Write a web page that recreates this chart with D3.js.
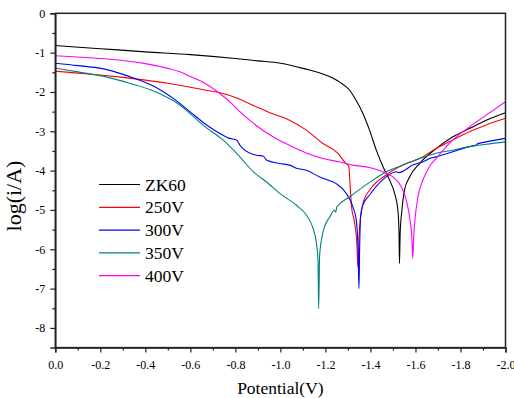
<!DOCTYPE html>
<html>
<head>
<meta charset="utf-8">
<script src="https://cdn.jsdelivr.net/npm/d3@7"></script>
</head>
<body style="margin:0">
<svg id="chart" width="514" height="398" font-family="Liberation Serif"></svg>
<script>
// ---- data (potential V, log(i/A)) ----
const seriesNames = ["ZK60", "250V", "300V", "350V", "400V"];
const seriesColors = ["#000000", "#ff0000", "#0000ff", "#008080", "#ff00ff"];

const zk60 = [[0,-0.82],[-0.2,-0.90],[-0.4,-0.98],[-0.6,-1.05],[-0.8,-1.15],[-0.9,-1.21],[-1.0,-1.27],[-1.1,-1.40],[-1.218,-1.61],[-1.263,-1.75],[-1.307,-1.95],[-1.335,-2.2],[-1.366,-2.54],[-1.396,-2.97],[-1.426,-3.48],[-1.463,-3.99],[-1.485,-4.24],[-1.507,-4.57],[-1.522,-5.0],[-1.527,-5.6],[-1.529,-6.36],[-1.532,-5.6],[-1.540,-5.0],[-1.551,-4.5],[-1.574,-4.16],[-1.618,-3.82],[-1.692,-3.44],[-1.766,-3.14],[-1.84,-2.93],[-1.914,-2.72],[-2.0,-2.53]];

const v250 = [[0,-1.47],[-0.1,-1.52],[-0.2,-1.57],[-0.3,-1.63],[-0.4,-1.70],[-0.5,-1.78],[-0.6,-1.88],[-0.664,-1.95],[-0.745,-2.04],[-0.8,-2.14],[-0.894,-2.38],[-0.95,-2.52],[-1.041,-2.72],[-1.115,-2.97],[-1.189,-3.31],[-1.256,-3.56],[-1.285,-3.78],[-1.304,-3.90],[-1.310,-4.4],[-1.316,-4.92],[-1.33,-5.34],[-1.34,-5.9],[-1.344,-6.45],[-1.35,-5.6],[-1.356,-5.2],[-1.37,-4.77],[-1.396,-4.5],[-1.47,-4.11],[-1.544,-3.86],[-1.618,-3.69],[-1.692,-3.44],[-1.766,-3.22],[-1.84,-3.01],[-1.914,-2.84],[-2.0,-2.67]];

const v300 = [[0,-1.27],[-0.1,-1.33],[-0.22,-1.42],[-0.33,-1.61],[-0.442,-1.87],[-0.553,-2.29],[-0.598,-2.50],[-0.672,-2.84],[-0.745,-3.10],[-0.775,-3.18],[-0.805,-3.22],[-0.82,-3.35],[-0.834,-3.44],[-0.894,-3.61],[-0.923,-3.63],[-0.938,-3.73],[-0.997,-3.82],[-1.041,-3.86],[-1.071,-3.94],[-1.115,-3.99],[-1.174,-4.16],[-1.211,-4.24],[-1.248,-4.33],[-1.293,-4.58],[-1.322,-4.92],[-1.337,-5.26],[-1.345,-6.0],[-1.349,-7.0],[-1.352,-6.0],[-1.356,-5.18],[-1.366,-4.88],[-1.396,-4.62],[-1.47,-4.16],[-1.515,-4.03],[-1.525,-4.05],[-1.588,-3.86],[-1.65,-3.73],[-1.655,-3.71],[-1.692,-3.65],[-1.766,-3.52],[-1.84,-3.39],[-1.87,-3.35],[-1.875,-3.32],[-1.914,-3.27],[-2.0,-3.18]];

const v350 = [[0,-1.39],[-0.1,-1.49],[-0.22,-1.61],[-0.33,-1.78],[-0.442,-1.99],[-0.553,-2.33],[-0.664,-2.88],[-0.745,-3.22],[-0.82,-3.65],[-0.878,-4.02],[-0.945,-4.32],[-0.997,-4.58],[-1.071,-4.88],[-1.115,-5.13],[-1.145,-5.47],[-1.16,-5.85],[-1.167,-6.28],[-1.170,-7.51],[-1.174,-6.19],[-1.182,-5.77],[-1.196,-5.43],[-1.219,-5.18],[-1.241,-5.0],[-1.246,-5.06],[-1.251,-4.92],[-1.307,-4.67],[-1.396,-4.30],[-1.47,-4.03],[-1.544,-3.86],[-1.618,-3.69],[-1.692,-3.56],[-1.766,-3.48],[-1.84,-3.39],[-1.914,-3.33],[-2.0,-3.27]];

const v400 = [[0,-1.08],[-0.1,-1.11],[-0.2,-1.15],[-0.3,-1.20],[-0.4,-1.28],[-0.5,-1.40],[-0.55,-1.48],[-0.6,-1.61],[-0.664,-1.78],[-0.731,-2.04],[-0.79,-2.33],[-0.82,-2.50],[-0.894,-2.86],[-0.967,-3.14],[-1.041,-3.36],[-1.115,-3.55],[-1.189,-3.69],[-1.263,-3.78],[-1.322,-3.86],[-1.396,-3.92],[-1.455,-4.03],[-1.5,-4.16],[-1.537,-4.41],[-1.559,-4.75],[-1.574,-5.18],[-1.584,-5.7],[-1.588,-6.23],[-1.592,-5.7],[-1.599,-5.18],[-1.611,-4.67],[-1.633,-4.24],[-1.662,-3.90],[-1.692,-3.69],[-1.766,-3.22],[-1.84,-2.89],[-1.914,-2.59],[-2.0,-2.25]];

const seriesData = [zk60, v250, v300, v350, v400];

const xTickValues = [0,-0.2,-0.4,-0.6,-0.8,-1.0,-1.2,-1.4,-1.6,-1.8,-2.0];
const xMinorTicks = [-0.1,-0.3,-0.5,-0.7,-0.9,-1.1,-1.3,-1.5,-1.7,-1.9];
const yTickValues = [0,-1,-2,-3,-4,-5,-6,-7,-8];
const yMinorTicks = [-0.5,-1.5,-2.5,-3.5,-4.5,-5.5,-6.5,-7.5];
const xTitle = "Potential(V)";
const yTitle = "log(i/A)";

const svg = d3.select("#chart");
const L = 55.3, R = 505.5, T = 13.3, B = 347.6;

const x = d3.scaleLinear().domain([0, -2]).range([L, R]);
const y = d3.scaleLinear().domain([-8.5, 0]).range([B, T]);

const line = d3.line()
  .x(d => x(d[0]))
  .y(d => y(d[1]))
  .curve(d3.curveMonotoneX);

const plot = svg.append("g");
seriesData.forEach((s, i) => {
  plot.append("path")
    .datum(s)
    .attr("d", line)
    .attr("fill", "none")
    .attr("stroke", seriesColors[i])
    .attr("stroke-width", 1.1)
    .attr("stroke-linejoin", "round");
});

svg.append("rect")
  .attr("x", L).attr("y", T)
  .attr("width", R - L).attr("height", B - T)
  .attr("fill", "none").attr("stroke", "#222").attr("stroke-width", 1.5);

const fmtX = d => d.toFixed(1);
const fmtY = d => String(d);
const setFont = (sel, size) => sel.attr("font-family", "Liberation Serif")
  .style("font-family", "'Liberation Serif'").style("font-size", size + "px").attr("font-size", size);

const xAxis = d3.axisBottom(x).tickValues(xTickValues).tickFormat(fmtX).tickSize(5).tickPadding(8);
const gx = svg.append("g").attr("transform", `translate(0,${B})`).call(xAxis);
gx.attr("font-family", "Liberation Serif").attr("font-size", 12);
gx.select(".domain").attr("stroke", "#222").attr("stroke-width", 1.5);
gx.selectAll(".tick line").attr("stroke", "#222").attr("stroke-width", 1.2);
setFont(gx.selectAll("text"), 12);

const gxm = svg.append("g").attr("transform", `translate(0,${B})`)
  .call(d3.axisBottom(x).tickValues(xMinorTicks).tickSize(3).tickFormat(""));
gxm.select(".domain").remove();
gxm.selectAll(".tick line").attr("stroke", "#222").attr("stroke-width", 1.2);

const yAxis = d3.axisLeft(y).tickValues(yTickValues).tickFormat(fmtY).tickSize(5).tickPadding(5);
const gy = svg.append("g").attr("transform", `translate(${L},0)`).call(yAxis);
gy.attr("font-family", "Liberation Serif").attr("font-size", 12);
gy.select(".domain").attr("stroke", "#222").attr("stroke-width", 1.5);
gy.selectAll(".tick line").attr("stroke", "#222").attr("stroke-width", 1.2);
setFont(gy.selectAll("text"), 12);

const gym = svg.append("g").attr("transform", `translate(${L},0)`)
  .call(d3.axisLeft(y).tickValues(yMinorTicks).tickSize(3).tickFormat(""));
gym.select(".domain").remove();
gym.selectAll(".tick line").attr("stroke", "#222").attr("stroke-width", 1.2);

setFont(svg.append("text")
  .attr("x", (L + R) / 2).attr("y", 394)
  .attr("text-anchor", "middle")
  .text(xTitle), 17.5);

setFont(svg.append("text")
  .attr("transform", `translate(21,196) rotate(-90)`)
  .attr("text-anchor", "middle")
  .text(yTitle), 22);

const legend = svg.append("g");
seriesNames.forEach((name, i) => {
  const ly = 184.5 + i * 22.8;
  legend.append("line")
    .attr("x1", 99).attr("x2", 140)
    .attr("y1", ly).attr("y2", ly)
    .attr("stroke", seriesColors[i]).attr("stroke-width", 1.2);
  setFont(legend.append("text")
    .attr("x", 145).attr("y", ly + 6)
    .text(name), 17.5);
});
</script>
</body>
</html>
